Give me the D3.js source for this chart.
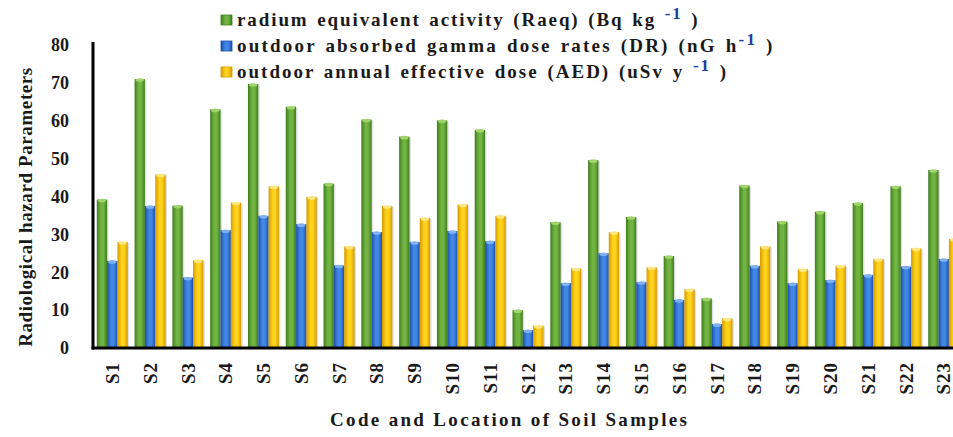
<!DOCTYPE html>
<html>
<head>
<meta charset="UTF-8">
<script src="https://cdnjs.cloudflare.com/ajax/libs/d3/7.8.5/d3.min.js"></script>
<style>
  body { margin: 0; background: #fff; }
</style>
</head>
<body>
<svg id="chart" width="953" height="437" font-family="Liberation Serif" font-weight="bold"></svg>
<script>
const samples = ['S1','S2','S3','S4','S5','S6','S7','S8','S9','S10','S11','S12','S13','S14','S15','S16','S17','S18','S19','S20','S21','S22','S23']
const raeq = [39.2, 71.0, 37.6, 63.0, 69.7, 63.7, 43.4, 60.3, 55.8, 60.1, 57.6, 10.0, 33.2, 49.6, 34.6, 24.3, 13.1, 42.9, 33.4, 36.0, 38.3, 42.7, 47.0]
const dr = [23.0, 37.5, 18.6, 31.1, 34.9, 32.7, 21.8, 30.6, 28.0, 30.9, 28.2, 4.7, 17.1, 25.0, 17.4, 12.7, 6.3, 21.7, 17.1, 17.9, 19.3, 21.5, 23.5]
const aed = [28.0, 45.8, 23.2, 38.4, 42.7, 39.9, 26.8, 37.5, 34.3, 37.9, 34.9, 5.9, 21.0, 30.6, 21.3, 15.5, 7.8, 26.8, 20.8, 21.7, 23.5, 26.3, 28.8]
const yTicks = [0, 10, 20, 30, 40, 50, 60, 70, 80]
const seriesKeys = ['raeq', 'dr', 'aed']
const legendText = [
  ['radium equivalent activity (Raeq) (Bq kg ', '-1', ' )'],
  ['outdoor absorbed gamma dose rates (DR) (nG h', '-1', ' )'],
  ['outdoor annual effective dose (AED) (uSv y ', '-1', ' )']
]

// colours: dark edge, light middle
const colors = {
  raeq: { edge: '#3f7d1f', mid: '#72b441', cap: '#9fd46c' },
  dr:   { edge: '#1d4fa6', mid: '#4188e6', cap: '#7fb0f2' },
  aed:  { edge: '#d59a00', mid: '#ffd21c', cap: '#ffe680' }
}

const serif = 'Liberation Serif'
const ink = '#1a1a1a'

const svg = d3.select('#chart')

const x0 = d3.scaleBand()
  .domain(samples)
  .range([93, 963])
  .paddingInner(0.18)
  .paddingOuter(0.1)

const x1 = d3.scaleBand()
  .domain(seriesKeys)
  .range([0, x0.bandwidth()])

const y = d3.scaleLinear()
  .domain([0, 80])
  .range([348, 45])

const defs = svg.append('defs')
seriesKeys.forEach(k => {
  const g = defs.append('linearGradient')
    .attr('id', 'grad-' + k)
    .attr('x1', '0%').attr('x2', '100%')
  g.append('stop').attr('offset', '0%').attr('stop-color', colors[k].edge)
  g.append('stop').attr('offset', '40%').attr('stop-color', colors[k].mid)
  g.append('stop').attr('offset', '65%').attr('stop-color', colors[k].mid)
  g.append('stop').attr('offset', '100%').attr('stop-color', colors[k].edge)
})

const rows = samples.map((s, i) => ({ sample: s, raeq: raeq[i], dr: dr[i], aed: aed[i] }))

const group = svg.append('g').selectAll('g')
  .data(rows)
  .enter().append('g')
  .attr('transform', d => `translate(${x0(d.sample)},0)`)

const bar = group.selectAll('g')
  .data(d => seriesKeys.map(k => ({ key: k, value: d[k] })))
  .enter().append('g')

// soft shadow
bar.append('rect')
  .attr('x', d => x1(d.key) + 1.5)
  .attr('y', d => y(d.value) + 1)
  .attr('width', x1.bandwidth())
  .attr('height', d => y(0) - y(d.value))
  .attr('fill', '#000')
  .attr('opacity', 0.12)

bar.append('rect')
  .attr('x', d => x1(d.key))
  .attr('y', d => y(d.value))
  .attr('width', x1.bandwidth())
  .attr('height', d => y(0) - y(d.value))
  .attr('fill', d => `url(#grad-${d.key})`)

bar.append('ellipse')
  .attr('cx', d => x1(d.key) + x1.bandwidth() / 2)
  .attr('cy', d => y(d.value) + 1)
  .attr('rx', d => x1.bandwidth() / 2 - 1)
  .attr('ry', 1.8)
  .attr('fill', d => colors[d.key].cap)

// axes
svg.append('line')
  .attr('x1', 93).attr('x2', 93)
  .attr('y1', 42).attr('y2', 349.5)
  .attr('stroke', '#000').attr('stroke-width', 3)
svg.append('line')
  .attr('x1', 91.5).attr('x2', 953)
  .attr('y1', 348).attr('y2', 348)
  .attr('stroke', '#000').attr('stroke-width', 3)

svg.append('g').selectAll('text')
  .data(yTicks)
  .enter().append('text')
  .attr('x', 69)
  .attr('y', d => y(d))
  .attr('dy', '0.35em')
  .attr('text-anchor', 'end')
  .attr('font-family', serif).attr('font-weight', 'bold').attr('fill', ink)
  .attr('font-size', 18)
  .text(d => d)

svg.append('g').selectAll('text')
  .data(samples)
  .enter().append('text')
  .attr('transform', d => `translate(${x0(d) + x0.bandwidth() / 2},362) rotate(-90)`)
  .attr('dy', '0.35em')
  .attr('text-anchor', 'end')
  .attr('font-family', serif).attr('font-weight', 'bold').attr('fill', ink)
  .attr('font-size', 19)
  .attr('letter-spacing', 1)
  .text(d => d)

svg.append('text')
  .attr('transform', 'translate(25,207) rotate(-90)')
  .attr('dy', '0.35em')
  .attr('text-anchor', 'middle')
  .attr('font-family', serif).attr('font-weight', 'bold').attr('fill', ink)
  .attr('font-size', 19)
  .attr('letter-spacing', 0.6)
  .text('Radiological hazard Parameters')

svg.append('text')
  .attr('x', 330)
  .attr('y', 426)
  .attr('textLength', 357)
  .attr('lengthAdjust', 'spacing')
  .attr('font-family', serif).attr('font-weight', 'bold').attr('fill', ink)
  .attr('font-size', 19)
  .text('Code and  Location of Soil Samples')

// legend
const legend = svg.append('g')
const legendRows = legend.selectAll('g')
  .data(seriesKeys)
  .enter().append('g')
  .attr('transform', (d, i) => `translate(221,${20 + i * 26})`)

legendRows.append('rect')
  .attr('x', 0).attr('y', -5)
  .attr('width', 11).attr('height', 10)
  .attr('fill', d => `url(#grad-${d})`)
  .attr('stroke', d => colors[d].edge)
  .attr('stroke-width', 0.8)

const lt = legendRows.append('text')
  .attr('x', 16)
  .attr('y', 6)
  .attr('font-family', serif).attr('font-weight', 'bold').attr('fill', ink)
  .attr('font-size', 19)
  .attr('letter-spacing', (d, i) => [1.9, 2.2, 2.0][i])
  .attr('word-spacing', 2)

lt.append('tspan').text((d, i) => legendText[i][0])
lt.append('tspan')
  .attr('dy', -7)
  .attr('font-size', 17)
  .attr('fill', '#1f3f9a')
  .text((d, i) => legendText[i][1])
lt.append('tspan')
  .attr('dy', 7)
  .text((d, i) => legendText[i][2])
</script>
</body>
</html>
